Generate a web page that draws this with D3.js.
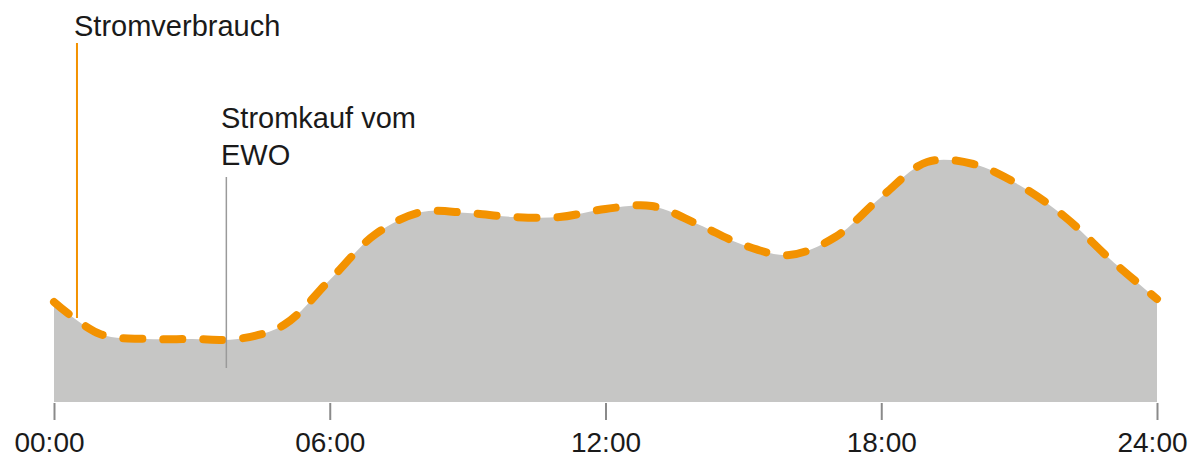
<!DOCTYPE html>
<html><head><meta charset="utf-8">
<script src="https://cdn.jsdelivr.net/npm/d3@7"></script>
<style>body{margin:0;background:#fff}svg{display:block}text{font-family:"Liberation Sans",Arial,sans-serif}</style>
</head><body>
<svg id="c" width="1192" height="462"></svg>
<script>
const hours = d3.range(0, 25);
const purchase =    [100, 68, 63, 63, 63, 77, 122, 168, 190, 189, 185, 185, 193, 196, 178, 157, 147, 165, 205, 240, 238, 217, 185, 142, 103];
const consumption = [100, 68, 63, 63, 63, 77, 122, 168, 190, 189, 185, 185, 193, 196, 178, 157, 147, 165, 205, 240, 238, 217, 185, 142, 103];
const tickHours = [0, 6, 12, 18, 24];
const tickLabels = ["00:00", "06:00", "12:00", "18:00", "24:00"];

const svg = d3.select("#c");
const x = d3.scaleLinear().domain([0, 24]).range([54, 1157]);
const y = d3.scaleLinear().domain([0, 300]).range([402, 102]);

const curve = d3.curveCatmullRom.alpha(0.5);
svg.append("path")
  .datum(hours.map((h, i) => [h, purchase[i]]))
  .attr("fill", "#c6c6c5")
  .attr("d", d3.area().x(d => x(d[0])).y0(y(0)).y1(d => y(d[1])).curve(curve));

svg.append("path")
  .datum(hours.map((h, i) => [h, consumption[i]]))
  .attr("fill", "none")
  .attr("stroke", "#f39200")
  .attr("stroke-width", 8)
  .attr("stroke-linecap", "round")
  .attr("stroke-dasharray", "19,21")
  .attr("d", d3.line().x(d => x(d[0])).y(d => y(d[1])).curve(curve));

// annotations
svg.append("line").attr("x1", x(0.5)).attr("x2", x(0.5)).attr("y1", 43).attr("y2", 318)
  .attr("stroke", "#f39200").attr("stroke-width", 2);
svg.append("text").attr("x", 74).attr("y", 36).attr("font-size", 29).attr("fill", "#1a1a1a").text("Stromverbrauch");

svg.append("line").attr("x1", x(3.75)).attr("x2", x(3.75)).attr("y1", 177).attr("y2", 368)
  .attr("stroke", "#9a9a9a").attr("stroke-width", 1.5);
const t2 = svg.append("text").attr("x", 221).attr("y", 128).attr("font-size", 29).attr("fill", "#1a1a1a");
t2.append("tspan").attr("x", 221).text("Stromkauf vom");
t2.append("tspan").attr("x", 221).attr("dy", 37).text("EWO");

// axis
const axis = d3.axisBottom(x).tickValues(tickHours).tickFormat((d, i) => tickLabels[i])
  .tickSizeInner(17).tickSizeOuter(0).tickPadding(12);
const g = svg.append("g").attr("transform", "translate(0,403)").call(axis);
g.select(".domain").remove();
g.selectAll(".tick line").attr("stroke", "#8a8a8a").attr("stroke-width", 2);
g.selectAll(".tick text").attr("font-size", 28).attr("fill", "#1a1a1a")
  .attr("font-family", "Liberation Sans, Arial, sans-serif")
  .attr("dx", (d, i) => (i === 0 || i === tickHours.length - 1) ? -5 : 0);
</script>
</body></html>
